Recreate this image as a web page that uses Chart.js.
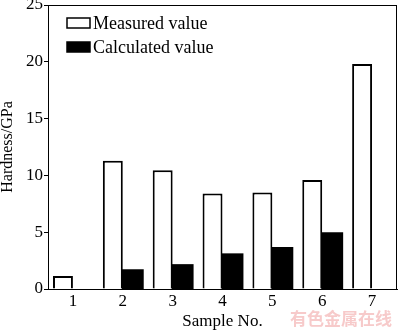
<!DOCTYPE html>
<html>
<head>
<meta charset="utf-8">
<script src="https://cdn.jsdelivr.net/npm/chart.js@4/dist/chart.umd.min.js"></script>
<style>
	html, body { margin: 0; padding: 0; background: #fff; }
	#wrap { position: relative; width: 400px; height: 333px; }
	#mark {
		position: absolute; left: 290px; top: 309px;
		font: bold 17px "Noto Sans CJK SC", sans-serif;
		color: #f7caca; line-height: 1; white-space: nowrap;
	}
	#probe { position: absolute; left: -999px; font: 17px "Liberation Serif"; }
</style>
</head>
<body>
<div id="wrap">
	<canvas id="chart" width="400" height="333"></canvas>
	<div id="mark">有色金属在线</div>
</div>
<span id="probe">Sample No.</span>
<script>
const samples = ["1", "2", "3", "4", "5", "6", "7"];
const measured = [1.15, 11.3, 10.45, 8.4, 8.5, 9.6, 19.8];
// 試料1と7は計算値なし
const calculated = [null, 1.65, 2.1, 3.05, 3.6, 4.9, null];
const yTicks = [0, 5, 10, 15, 20, 25];

const serif = "Liberation Serif";

// 枠線（上と右）と凡例を描く
const framePlugin = {
	id: "frame",
	afterDraw(chart) {
		const { ctx, chartArea: a } = chart;
		ctx.save();
		ctx.strokeStyle = "#000";
		ctx.lineWidth = 1;
		ctx.strokeRect(a.left + 0.5, a.top + 0.5, a.right - a.left - 1, a.bottom - a.top);

		ctx.font = "18px 'Liberation Serif'";
		ctx.textBaseline = "middle";
		chart.data.datasets.forEach((ds, i) => {
			const y = 18 + i * 24;
			ctx.fillStyle = ds.backgroundColor;
			ctx.fillRect(67, y, 23, 10);
			ctx.lineWidth = 1.5;
			ctx.strokeStyle = "#000";
			ctx.strokeRect(67, y, 23, 10);
			ctx.fillStyle = "#000";
			ctx.fillText(ds.label, 93, y + 6);
		});
		ctx.restore();
	},
};

function draw() {
	new Chart(document.getElementById("chart"), {
		type: "bar",
		data: {
			labels: samples,
			datasets: [
				{
					label: "Measured value",
					data: measured,
					backgroundColor: "#fff",
					borderColor: "#000",
					borderWidth: 2,
				},
				{
					label: "Calculated value",
					data: calculated,
					backgroundColor: "#000",
					borderColor: "#000",
					borderWidth: 0,
					inflateAmount: 1,
				},
			],
		},
		options: {
			responsive: false,
			animation: false,
			categoryPercentage: 0.8,
			barPercentage: 1.0,
			layout: { padding: { top: 5, right: 3, left: 0, bottom: 0 } },
			plugins: {
				legend: { display: false },
				tooltip: { enabled: false },
			},
			scales: {
				x: {
					grid: { display: false, drawTicks: false },
					border: { color: "#000", width: 1 },
					ticks: { color: "#000", font: { family: serif, size: 17 }, padding: 2 },
					title: {
						display: true,
						text: "Sample No.",
						color: "#000",
						font: { family: serif, size: 17 },
						padding: { top: 0, bottom: 1 },
					},
					afterFit: (s) => {
						s.height = 44;
						s.paddingLeft = 0;
						s.paddingRight = 0;
					},
				},
				y: {
					min: 0,
					max: 25,
					afterBuildTicks: (s) => {
						s.ticks = yTicks.map((v) => ({ value: v }));
					},
					grid: { drawOnChartArea: false, tickLength: 4, color: "#000" },
					border: { color: "#000", width: 1 },
					ticks: { color: "#000", font: { family: serif, size: 17 }, padding: 1 },
					title: {
						display: true,
						text: "Hardness/GPa",
						color: "#000",
						font: { family: serif, size: 16, lineHeight: 1 },
						padding: { top: 0, bottom: 0 },
					},
					afterFit: (s) => {
						s.width = 48;
						s.paddingTop = 0;
						s.paddingBottom = 0;
					},
				},
			},
		},
		plugins: [framePlugin],
	});
}

document.fonts.load("17px 'Liberation Serif'").then(draw, draw);
</script>
</body>
</html>
